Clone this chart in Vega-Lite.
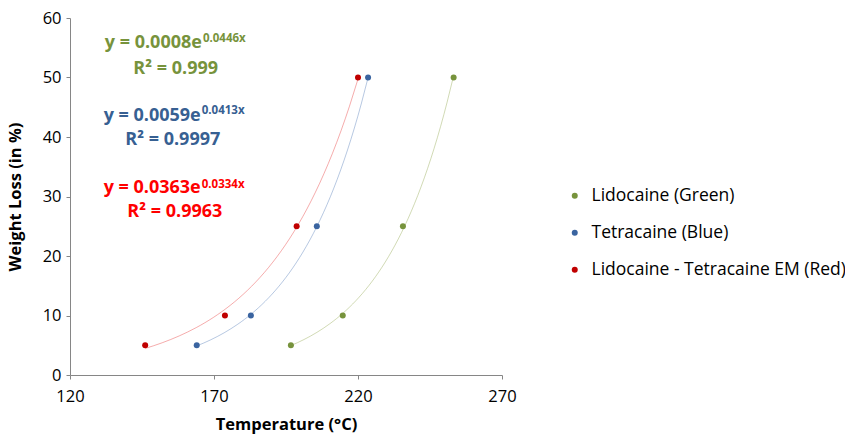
{
  "$schema": "https://vega.github.io/schema/vega-lite/v6.json",
  "width": 432,
  "height": 357,
  "autosize": {"type": "none"},
  "padding": {"left": 70, "top": 18, "right": 343, "bottom": 60},
  "background": "white",
  "config": {
    "view": {"stroke": null},
    "font": "Open Sans",
    "axis": {
      "grid": false,
      "domainColor": "#868686",
      "tickColor": "#868686",
      "tickSize": 4,
      "labelColor": "#000000",
      "labelFont": "Open Sans",
      "labelFontSize": 16.5,
      "labelFlush": false,
      "titleFont": "Open Sans",
      "titleFontSize": 16.5,
      "titleFontWeight": "bold",
      "titleColor": "#000000"
    }
  },
  "datasets": {
    "pts": [
      {"temp": 146.1, "weight": 5, "series": "Lidocaine - Tetracaine EM (Red)"},
      {"temp": 173.8, "weight": 10, "series": "Lidocaine - Tetracaine EM (Red)"},
      {"temp": 198.7, "weight": 25, "series": "Lidocaine - Tetracaine EM (Red)"},
      {"temp": 220.0, "weight": 50, "series": "Lidocaine - Tetracaine EM (Red)"},
      {"temp": 164.0, "weight": 5, "series": "Tetracaine (Blue)"},
      {"temp": 182.8, "weight": 10, "series": "Tetracaine (Blue)"},
      {"temp": 205.7, "weight": 25, "series": "Tetracaine (Blue)"},
      {"temp": 223.5, "weight": 50, "series": "Tetracaine (Blue)"},
      {"temp": 196.7, "weight": 5, "series": "Lidocaine (Green)"},
      {"temp": 214.7, "weight": 10, "series": "Lidocaine (Green)"},
      {"temp": 235.6, "weight": 25, "series": "Lidocaine (Green)"},
      {"temp": 253.2, "weight": 50, "series": "Lidocaine (Green)"}
    ],
    "labels": [
      {"x": 165.8, "y": 55.8, "text": "y = 0.0008e", "kind": "main", "series": "Lidocaine (Green)"},
      {"x": 165.8, "y": 56.5, "text": "0.0446x", "kind": "sup", "series": "Lidocaine (Green)"},
      {"x": 156.7, "y": 51.4, "text": "R² = 0.999", "kind": "r2", "series": "Lidocaine (Green)"},
      {"x": 165.4, "y": 43.6, "text": "y = 0.0059e", "kind": "main", "series": "Tetracaine (Blue)"},
      {"x": 165.4, "y": 44.3, "text": "0.0413x", "kind": "sup", "series": "Tetracaine (Blue)"},
      {"x": 155.7, "y": 39.5, "text": "R² = 0.9997", "kind": "r2", "series": "Tetracaine (Blue)"},
      {"x": 165.4, "y": 31.4, "text": "y = 0.0363e", "kind": "main", "series": "Lidocaine - Tetracaine EM (Red)"},
      {"x": 165.4, "y": 32.0, "text": "0.0334x", "kind": "sup", "series": "Lidocaine - Tetracaine EM (Red)"},
      {"x": 156.4, "y": 27.4, "text": "R² = 0.9963", "kind": "r2", "series": "Lidocaine - Tetracaine EM (Red)"}
    ]
  },
  "layer": [
    {
      "data": {"name": "pts"},
      "transform": [
        {"regression": "weight", "on": "temp", "method": "exp", "groupby": ["series"]}
      ],
      "mark": {"type": "line", "strokeWidth": 1, "opacity": 0.45},
      "encoding": {
        "x": {"field": "temp", "type": "quantitative", "scale": {"domain": [120, 270], "nice": false}},
        "y": {"field": "weight", "type": "quantitative", "scale": {"domain": [0, 60], "nice": false}},
        "color": {
          "field": "series", "type": "nominal",
          "scale": {"domain": ["Lidocaine (Green)", "Tetracaine (Blue)", "Lidocaine - Tetracaine EM (Red)"], "range": ["#98AD5A", "#5F85BC", "#E84848"]},
          "legend": null
        }
      }
    },
    {
      "data": {"name": "pts"},
      "mark": {"type": "point", "filled": true, "size": 36, "opacity": 1},
      "encoding": {
        "x": {
          "field": "temp", "type": "quantitative",
          "scale": {"domain": [120, 270], "nice": false},
          "axis": {"values": [120, 170, 220, 270], "title": "Temperature (°C)", "labelPadding": 9, "titlePadding": 12}
        },
        "y": {
          "field": "weight", "type": "quantitative",
          "scale": {"domain": [0, 60], "nice": false},
          "axis": {"values": [0, 10, 20, 30, 40, 50, 60], "title": "Weight Loss (in %)", "labelPadding": 5, "titlePadding": 19}
        },
        "color": {
          "field": "series", "type": "nominal",
          "scale": {"domain": ["Lidocaine (Green)", "Tetracaine (Blue)", "Lidocaine - Tetracaine EM (Red)"], "range": ["#77933C", "#3A64A0", "#C00000"]},
          "legend": {
            "title": null,
            "orient": "none",
            "legendX": 496,
            "legendY": 169,
            "padding": 0,
            "symbolType": "circle",
            "symbolSize": 36,
            "labelFont": "Open Sans",
            "labelFontSize": 17.5,
            "labelColor": "#000000",
            "labelLimit": 0,
            "labelOffset": 8,
            "rowPadding": 18
          }
        }
      }
    },
    {
      "data": {"name": "labels"},
      "transform": [{"filter": "datum.kind === 'main'"}],
      "mark": {"type": "text", "align": "right", "baseline": "middle", "fontSize": 18, "fontWeight": "bold", "font": "Open Sans"},
      "encoding": {
        "x": {"field": "x", "type": "quantitative"},
        "y": {"field": "y", "type": "quantitative"},
        "text": {"field": "text"},
        "color": {
          "field": "series", "type": "nominal",
          "scale": {"domain": ["Lidocaine (Green)", "Tetracaine (Blue)", "Lidocaine - Tetracaine EM (Red)"], "range": ["#77933C", "#376092", "#FF0000"]},
          "legend": null
        }
      }
    },
    {
      "data": {"name": "labels"},
      "transform": [{"filter": "datum.kind === 'sup'"}],
      "mark": {"type": "text", "align": "left", "baseline": "middle", "fontSize": 11.5, "fontWeight": "bold", "font": "Open Sans", "dx": 1},
      "encoding": {
        "x": {"field": "x", "type": "quantitative"},
        "y": {"field": "y", "type": "quantitative"},
        "text": {"field": "text"},
        "color": {
          "field": "series", "type": "nominal",
          "scale": {"domain": ["Lidocaine (Green)", "Tetracaine (Blue)", "Lidocaine - Tetracaine EM (Red)"], "range": ["#77933C", "#376092", "#FF0000"]},
          "legend": null
        }
      }
    },
    {
      "data": {"name": "labels"},
      "transform": [{"filter": "datum.kind === 'r2'"}],
      "mark": {"type": "text", "align": "center", "baseline": "middle", "fontSize": 18, "fontWeight": "bold", "font": "Open Sans"},
      "encoding": {
        "x": {"field": "x", "type": "quantitative"},
        "y": {"field": "y", "type": "quantitative"},
        "text": {"field": "text"},
        "color": {
          "field": "series", "type": "nominal",
          "scale": {"domain": ["Lidocaine (Green)", "Tetracaine (Blue)", "Lidocaine - Tetracaine EM (Red)"], "range": ["#77933C", "#376092", "#FF0000"]},
          "legend": null
        }
      }
    }
  ],
  "resolve": {"scale": {"color": "independent"}}
}
